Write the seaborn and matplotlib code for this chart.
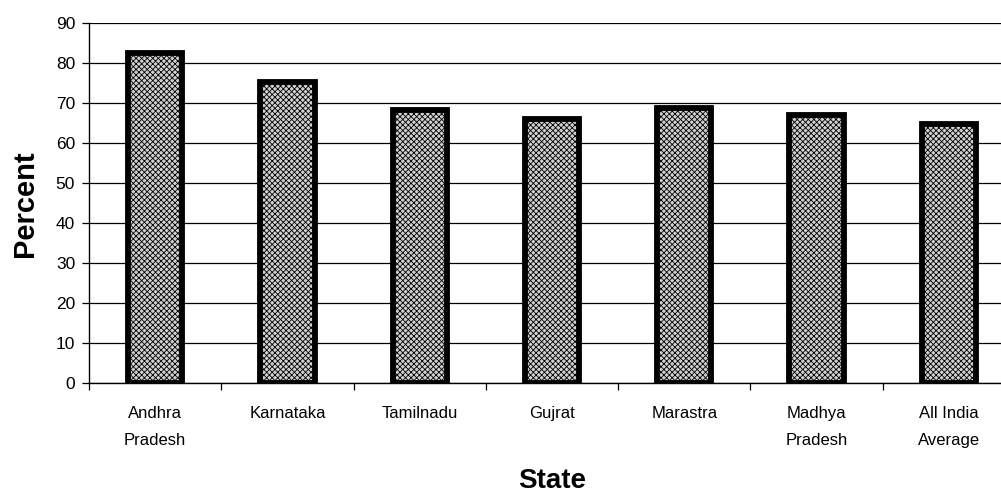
import numpy as np
import pandas as pd
import matplotlib
matplotlib.use("Agg")
import matplotlib.pyplot as plt
import seaborn as sns

states = ["Andhra\nPradesh", "Karnataka", "Tamilnadu", "Gujrat",
          "Marastra", "Madhya\nPradesh", "All India\nAverage"]
percent = [82.6, 75.4, 68.2, 66.0, 68.7, 67.0, 64.8]
y_ticks = [0, 10, 20, 30, 40, 50, 60, 70, 80, 90]

df = pd.DataFrame({"State": states, "Percent": percent})

sns.set_theme(style="white")
plt.rcParams["font.family"] = ["Liberation Sans", "DejaVu Sans"]
plt.rcParams["text.color"] = "black"
plt.rcParams["axes.labelcolor"] = "black"
plt.rcParams["xtick.color"] = "black"
plt.rcParams["ytick.color"] = "black"
plt.rcParams["hatch.linewidth"] = 0.6
plt.rcParams["hatch.color"] = "#383838"

fig = plt.figure(figsize=(10.01, 4.98), dpi=100)
ax = fig.add_axes([89 / 1001, 1 - 383.3 / 498, 926 / 1001, 360 / 498])

sns.barplot(data=df, x="State", y="Percent", order=states, ax=ax,
            color="#d0d0d0", width=0.41, edgecolor="black", linewidth=4.2,
            saturation=1)
for p in ax.patches:
    p.set_hatch("xxxxxx")
    p.set_zorder(3)

ax.set_ylim(0, 90)
ax.set_xlim(-0.5, len(states) - 0.5)
ax.set_yticks(y_ticks)
ax.yaxis.grid(True, color="black", linewidth=0.9)
ax.set_axisbelow(True)

for side in ["top", "right"]:
    ax.spines[side].set_visible(False)
ax.spines["left"].set_color("black")
ax.spines["left"].set_linewidth(1.0)
ax.spines["bottom"].set_color("black")
ax.spines["bottom"].set_linewidth(1.0)

ax.tick_params(axis="y", which="major", direction="out", length=5, width=0.9,
               labelsize=12.5, pad=5, left=True)
ax.tick_params(axis="x", which="major", length=0, labelsize=12, pad=16)
ax.set_xticks(np.arange(-0.5, len(states), 1.0), minor=True)
ax.tick_params(axis="x", which="minor", direction="out", length=5, width=0.9,
               bottom=True)
for lbl in ax.get_xticklabels():
    lbl.set_linespacing(2.0)

ax.set_xlabel("State", fontsize=20, fontweight="bold", labelpad=15)
ax.set_ylabel("Percent", fontsize=21, fontweight="bold", labelpad=12)

fig.savefig("out.png", dpi=100)
